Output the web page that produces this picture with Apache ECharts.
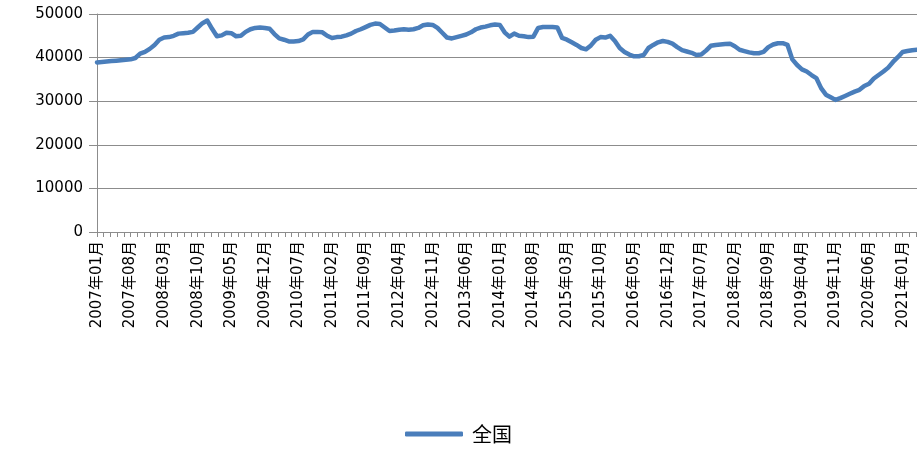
<!DOCTYPE html>
<html>
<head>
<meta charset="utf-8">
<script src="https://cdn.jsdelivr.net/npm/echarts@6/dist/echarts.min.js"></script>
<style>
html, body { margin: 0; padding: 0; background: #fff; }
#chart { width: 917px; height: 453px; }
</style>
</head>
<body>
<div id="chart"></div>
<script>
// 月份: 2007年01月 - 2021年04月
var years = [2007, 2008, 2009, 2010, 2011, 2012, 2013, 2014, 2015, 2016, 2017, 2018, 2019, 2020, 2021];
var lastMonth = 4;
var seriesName = '全国';

var values2007 = [38900, 39000, 39100, 39200, 39300, 39400, 39500, 39600, 39900, 40900, 41300, 42000];
var values2008 = [42900, 44100, 44600, 44700, 45000, 45500, 45600, 45700, 45900, 46900, 47900, 48500];
var values2009 = [46600, 44900, 45100, 45700, 45600, 44900, 45000, 45900, 46500, 46800, 46900, 46800];
var values2010 = [46600, 45400, 44400, 44100, 43700, 43700, 43800, 44200, 45300, 45900, 45900, 45800];
var values2011 = [45000, 44500, 44700, 44800, 45100, 45500, 46100, 46500, 47000, 47500, 47800, 47700];
var values2012 = [46900, 46100, 46200, 46400, 46500, 46400, 46500, 46800, 47400, 47600, 47500, 46800];
var values2013 = [45700, 44600, 44400, 44700, 45000, 45300, 45800, 46500, 46900, 47100, 47400, 47600];
var values2014 = [47500, 45800, 44800, 45500, 45000, 44900, 44700, 44800, 46800, 47000, 47000, 47000];
var values2015 = [46900, 44500, 44100, 43500, 42900, 42200, 41900, 42800, 44100, 44700, 44600, 45000];
var values2016 = [43800, 42200, 41300, 40700, 40300, 40300, 40600, 42200, 42900, 43500, 43800, 43600];
var values2017 = [43200, 42400, 41700, 41400, 41100, 40600, 40700, 41600, 42700, 42900, 43000, 43100];
var values2018 = [43200, 42600, 41800, 41500, 41200, 41000, 41000, 41300, 42400, 43000, 43300, 43300];
var values2019 = [42900, 39600, 38300, 37300, 36800, 36000, 35300, 33000, 31500, 30900, 30300, 30700];
var values2020 = [31200, 31700, 32200, 32600, 33500, 34000, 35200, 36000, 36800, 37700, 39000, 40100];
var values2021 = [41300, 41500, 41700, 41800];

var yTicks = [0, 10000, 20000, 30000, 40000, 50000];

var months = [];
years.forEach(function (y) {
    var n = y === 2021 ? lastMonth : 12;
    for (var m = 1; m <= n; m++) {
        months.push(y + '年' + (m < 10 ? '0' + m : m) + '月');
    }
});
var values = [].concat(values2007, values2008, values2009, values2010, values2011,
    values2012, values2013, values2014, values2015, values2016, values2017,
    values2018, values2019, values2020, values2021);

var myChart = echarts.init(document.getElementById('chart'));
var option = {
    backgroundColor: '#fff',
    animation: false,
    textStyle: {
        fontFamily: 'DejaVu Sans, Noto Sans CJK SC, sans-serif'
    },
    grid: {
        left: 97,
        right: 0,
        top: 14,
        bottom: 221,
        containLabel: false
    },
    legend: {
        data: [seriesName],
        bottom: 4,
        left: 'center',
        icon: 'roundRect',
        itemWidth: 58,
        itemHeight: 5,
        itemGap: 6,
        textStyle: {
            fontSize: 20,
            color: '#000',
            fontFamily: 'Noto Sans CJK SC',
            padding: [0, 0, 0, 4]
        }
    },
    xAxis: [
        {
            type: 'category',
            data: months,
            boundaryGap: false,
            axisLine: { lineStyle: { color: '#8c8c8c', width: 1 } },
            axisTick: { show: false },
            axisLabel: {
                interval: 6,
                rotate: 90,
                margin: 9,
                fontSize: 15,
                color: '#000',
                fontFamily: 'DejaVu Sans, Noto Sans CJK SC'
            },
            splitLine: { show: false }
        },
        {
            // 刻度线
            type: 'value',
            position: 'bottom',
            min: 0,
            max: months.length - 1,
            interval: 1.4,
            axisLine: { show: false },
            axisLabel: { show: false },
            splitLine: { show: false },
            axisTick: { show: true, length: 5, lineStyle: { color: '#8c8c8c' } }
        }
    ],
    yAxis: {
        type: 'value',
        min: yTicks[0],
        max: yTicks[yTicks.length - 1],
        interval: 10000,
        axisLine: { show: true, lineStyle: { color: '#8c8c8c' } },
        axisTick: { show: true, length: 8, lineStyle: { color: '#8c8c8c' } },
        axisLabel: {
            fontSize: 15,
            color: '#000',
            margin: 14,
            formatter: function (v) { return String(v); }
        },
        splitLine: { lineStyle: { color: '#8c8c8c', width: 1 } }
    },
    series: [
        {
            name: seriesName,
            type: 'line',
            data: values,
            symbol: 'none',
            lineStyle: { color: '#4a7ebb', width: 4.5, join: 'round', cap: 'round' },
            itemStyle: { color: '#4a7ebb' }
        }
    ]
};
myChart.setOption(option);
</script>
</body>
</html>
